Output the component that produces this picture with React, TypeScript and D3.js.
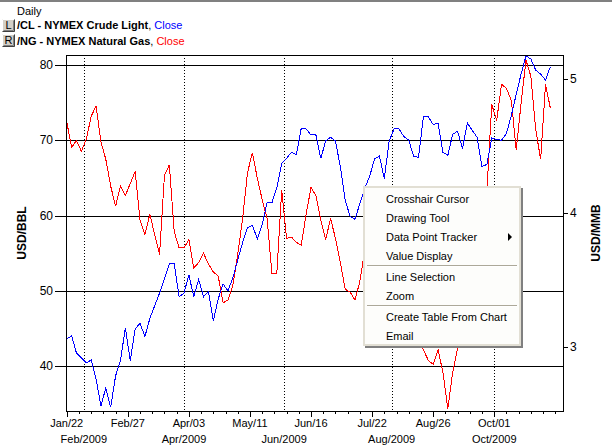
import * as d3 from "d3";
import { useEffect, useRef } from "react";

// trading-day index (0 = Jan 22 2009), one value every 2 trading days
const dayStep = 2;

const xTickDays = [0, 25, 50, 75, 100, 125, 150, 175];
const xTickLabels = ["Jan/22", "Feb/27", "Apr/03", "May/11", "Jun/16", "Jul/22", "Aug/26", "Oct/01"];
const monthStartDays = [7, 48, 89, 133, 175];
const monthLabels = ["Feb/2009", "Apr/2009", "Jun/2009", "Aug/2009", "Oct/2009"];
const leftTicks = [40, 50, 60, 70, 80];
const rightTicks = [3, 4, 5];

// /CL close, USD/BBL (left axis)
const crudeClose = [
  43.6, 44.0, 41.7, 41.1, 40.4, 40.8, 38.3, 34.7, 37.1, 34.5,
  38.7, 40.7, 45.1, 40.7, 44.9, 45.7, 43.9, 46.3, 48.0, 49.7,
  51.6, 53.6, 53.6, 49.2, 49.7, 52.1, 49.2, 51.5, 49.2, 49.9,
  46.0, 48.9, 50.9, 50.0, 51.7, 54.1, 56.4, 58.4, 58.7, 56.9,
  58.8, 61.7, 61.7, 63.7, 66.9, 67.6, 68.4, 68.1, 71.6, 71.5,
  70.7, 70.7, 67.6, 69.9, 70.4, 69.9, 66.5, 62.0, 59.9, 59.5,
  61.6, 63.6, 65.2, 67.5, 67.9, 64.9, 69.9, 71.5, 71.5, 70.5,
  70.0, 67.9, 67.7, 73.1, 73.1, 72.1, 72.3, 68.4, 68.0, 70.8,
  71.2, 68.9, 72.3, 71.3, 70.4, 66.5, 66.8, 70.3, 70.1, 70.0,
  70.9, 73.3, 76.1, 78.8, 81.2, 80.8, 79.3, 78.8, 78.0, 79.8,
];

// /NG close, USD/MMB (right axis)
const gasClose = [
  4.68, 4.49, 4.54, 4.46, 4.55, 4.72, 4.80, 4.53, 4.40, 4.20,
  4.05, 4.20, 4.13, 4.22, 4.31, 3.95, 3.84, 3.99, 3.84, 3.69,
  4.28, 4.36, 3.86, 3.74, 3.74, 3.80, 3.59, 3.63, 3.70, 3.62,
  3.56, 3.53, 3.33, 3.35, 3.46, 3.69, 3.96, 4.30, 4.45, 4.26,
  4.10, 3.96, 3.55, 3.55, 4.17, 3.81, 3.82, 3.78, 3.76, 3.99,
  4.19, 4.13, 3.95, 3.80, 3.96, 3.81, 3.63, 3.43, 3.41, 3.35,
  3.49, 3.72, 3.71, 3.63, 3.59, 3.51, 3.44, 3.37, 3.31, 3.24,
  3.19, 3.13, 3.07, 2.98, 2.90, 2.87, 2.98, 2.81, 2.54, 2.81,
  2.99, 3.20, 3.46, 3.65, 3.80, 3.99, 4.17, 4.81, 4.69, 4.96,
  4.93, 4.84, 4.47, 4.82, 5.14, 5.02, 4.62, 4.40, 4.96, 4.78,
];

const menuItems = [
  "Crosshair Cursor",
  "Drawing Tool",
  "Data Point Tracker",
  "Value Display",
  "Line Selection",
  "Zoom",
  "Create Table From Chart",
  "Email",
];
const menuSeparatorsAfter = [3, 5];

const Chart = () => {
  const svgRef = useRef(null);

  useEffect(() => {
    const width = 612;
    const height = 446;
    const margin = { top: 55, left: 66, right: 49, bottom: 35 };
    const font = "'Liberation Sans', Arial, sans-serif";
    const svg = d3.select(svgRef.current).attr("width", width).attr("height", height);
    svg.selectAll("*").remove();

    const x0 = margin.left;
    const x1 = width - margin.right;
    const y0 = margin.top;
    const y1 = height - margin.bottom;

    const x = d3.scaleLinear().domain([-0.3, 203.15]).range([x0, x1]);
    const yLeft = d3.scaleLinear().domain([34.02, 81.33]).range([y1, y0]);
    const yRight = d3.scaleLinear().domain([2.522, 5.179]).range([y1, y0]);
    const px = (v) => Math.round(v) + 0.5;

    svg.append("rect").attr("width", width).attr("height", height).attr("fill", "#fff");
    svg.append("rect").attr("width", width).attr("height", 2).attr("fill", "#808080");

    // header
    svg.append("text").attr("x", 17).attr("y", 15).attr("font-family", font)
      .attr("font-size", 11).text("Daily");
    [["L", 19], ["R", 34]].forEach(([t, by]) => {
      const g = svg.append("g").attr("transform", `translate(2,${by})`);
      g.append("rect").attr("width", 13).attr("height", 13).attr("fill", "#d4d0c8");
      g.append("path").attr("d", "M0.5,12.5V0.5H12.5").attr("fill", "none").attr("stroke", "#fff");
      g.append("path").attr("d", "M0.5,12.5H12.5V0.5").attr("fill", "none").attr("stroke", "#404040");
      g.append("path").attr("d", "M1.5,11.5H11.5V1.5").attr("fill", "none").attr("stroke", "#808080");
      g.append("text").attr("x", 6.5).attr("y", 10).attr("text-anchor", "middle")
        .attr("font-family", font).attr("font-size", 11).text(t);
    });
    [["/CL - NYMEX Crude Light", "#0000ff", 29], ["/NG - NYMEX Natural Gas", "#ff0000", 45]].forEach(
      ([name, c, by]) => {
        const t = svg.append("text").attr("x", 17).attr("y", by).attr("font-family", font).attr("font-size", 11);
        t.append("tspan").attr("font-weight", "bold").text(name);
        t.append("tspan").text(", ");
        t.append("tspan").attr("fill", c).text("Close");
      }
    );

    // horizontal grid
    svg.selectAll("hGrid").data(leftTicks).join("line")
      .attr("x1", x0).attr("x2", x1)
      .attr("y1", (d) => px(yLeft(d))).attr("y2", (d) => px(yLeft(d)))
      .attr("stroke", "#000");

    // month separators
    svg.selectAll("vGrid").data(monthStartDays).join("line")
      .attr("x1", (d) => px(x(d))).attr("x2", (d) => px(x(d)))
      .attr("y1", y0).attr("y2", y1)
      .attr("stroke", "#000").attr("stroke-dasharray", "1,2");

    // series
    svg.append("clipPath").attr("id", "plotClip").append("rect")
      .attr("x", x0).attr("y", y0).attr("width", x1 - x0).attr("height", y1 - y0);
    const plot = svg.append("g").attr("clip-path", "url(#plotClip)");
    const lineLeft = d3.line().x((d, i) => x(i * dayStep)).y((d) => yLeft(d));
    const lineRight = d3.line().x((d, i) => x(i * dayStep)).y((d) => yRight(d));
    plot.append("path").attr("d", lineRight(gasClose)).attr("fill", "none")
      .attr("stroke", "#ff0000").attr("stroke-width", 1).attr("shape-rendering", "crispEdges");
    plot.append("path").attr("d", lineLeft(crudeClose)).attr("fill", "none")
      .attr("stroke", "#0000ff").attr("stroke-width", 1).attr("shape-rendering", "crispEdges");

    // frame
    svg.append("rect").attr("x", x0 + 0.5).attr("y", y0 + 0.5)
      .attr("width", x1 - x0).attr("height", y1 - y0)
      .attr("fill", "none").attr("stroke", "#000");

    // left axis
    svg.selectAll("lTick").data(leftTicks).join("line")
      .attr("x1", x0 - 11).attr("x2", x0)
      .attr("y1", (d) => px(yLeft(d))).attr("y2", (d) => px(yLeft(d))).attr("stroke", "#000");
    svg.selectAll("lLabel").data(leftTicks).join("text")
      .attr("x", x0 - 13).attr("y", (d) => yLeft(d) + 4)
      .attr("text-anchor", "end").attr("font-family", font).attr("font-size", 12)
      .text((d) => d);

    // right axis
    svg.selectAll("rTick").data(rightTicks).join("line")
      .attr("x1", x1).attr("x2", x1 + 5)
      .attr("y1", (d) => px(yRight(d))).attr("y2", (d) => px(yRight(d))).attr("stroke", "#000");
    svg.selectAll("rLabel").data(rightTicks).join("text")
      .attr("x", x1 + 7).attr("y", (d) => yRight(d) + 4)
      .attr("font-family", font).attr("font-size", 12)
      .text((d) => d);

    // bottom axis
    const minorDays = d3.range(0, 203, 5);
    svg.selectAll("mTick").data(minorDays).join("line")
      .attr("x1", (d) => px(x(d))).attr("x2", (d) => px(x(d)))
      .attr("y1", y1).attr("y2", (d) => (xTickDays.includes(d) ? y1 + 6 : y1 + 3))
      .attr("stroke", "#000");
    svg.selectAll("xLabel").data(xTickDays).join("text")
      .attr("x", (d) => x(d)).attr("y", y1 + 16)
      .attr("text-anchor", "middle").attr("font-family", font).attr("font-size", 11)
      .text((d, i) => xTickLabels[i]);
    svg.selectAll("monthLabel").data(monthStartDays).join("text")
      .attr("x", (d) => x(d)).attr("y", y1 + 32)
      .attr("text-anchor", "middle").attr("font-family", font).attr("font-size", 11)
      .text((d, i) => monthLabels[i]);

    // axis titles
    svg.append("text").attr("transform", `translate(26,${(y0 + y1) / 2}) rotate(-90)`)
      .attr("text-anchor", "middle").attr("font-family", font).attr("font-size", 12)
      .attr("font-weight", "bold").text("USD/BBL");
    svg.append("text").attr("transform", `translate(600,${(y0 + y1) / 2}) rotate(-90)`)
      .attr("text-anchor", "middle").attr("font-family", font).attr("font-size", 12)
      .attr("font-weight", "bold").text("USD/MMB");

    // context menu
    const menu = svg.append("g").attr("transform", "translate(363,186)");
    menu.append("rect").attr("x", 2).attr("y", 2).attr("width", 158).attr("height", 160).attr("fill", "#808080");
    menu.append("rect").attr("width", 158).attr("height", 160).attr("fill", "#e2dfd4");
    menu.append("rect").attr("x", 2).attr("y", 2).attr("width", 154).attr("height", 156).attr("fill", "#fdfdfb");
    let yy = 17;
    menuItems.forEach((item, i) => {
      menu.append("text").attr("x", 23).attr("y", yy).attr("font-family", font)
        .attr("font-size", 11).attr("fill", "#000").text(item);
      if (item === "Data Point Tracker") {
        menu.append("path").attr("d", `M145,${yy - 8}L149,${yy - 4}L145,${yy}Z`).attr("fill", "#000");
      }
      if (menuSeparatorsAfter.includes(i)) {
        menu.append("line").attr("x1", 4).attr("x2", 154).attr("y1", yy + 5.5).attr("y2", yy + 5.5)
          .attr("stroke", "#aca899");
        menu.append("line").attr("x1", 4).attr("x2", 154).attr("y1", yy + 6.5).attr("y2", yy + 6.5)
          .attr("stroke", "#fff");
        yy += 21;
      } else {
        yy += 19;
      }
    });
  }, []);

  return <svg ref={svgRef} style={{ position: "absolute", left: 0, top: 0 }}></svg>;
};

export default function App() {
  return <Chart />;
}
